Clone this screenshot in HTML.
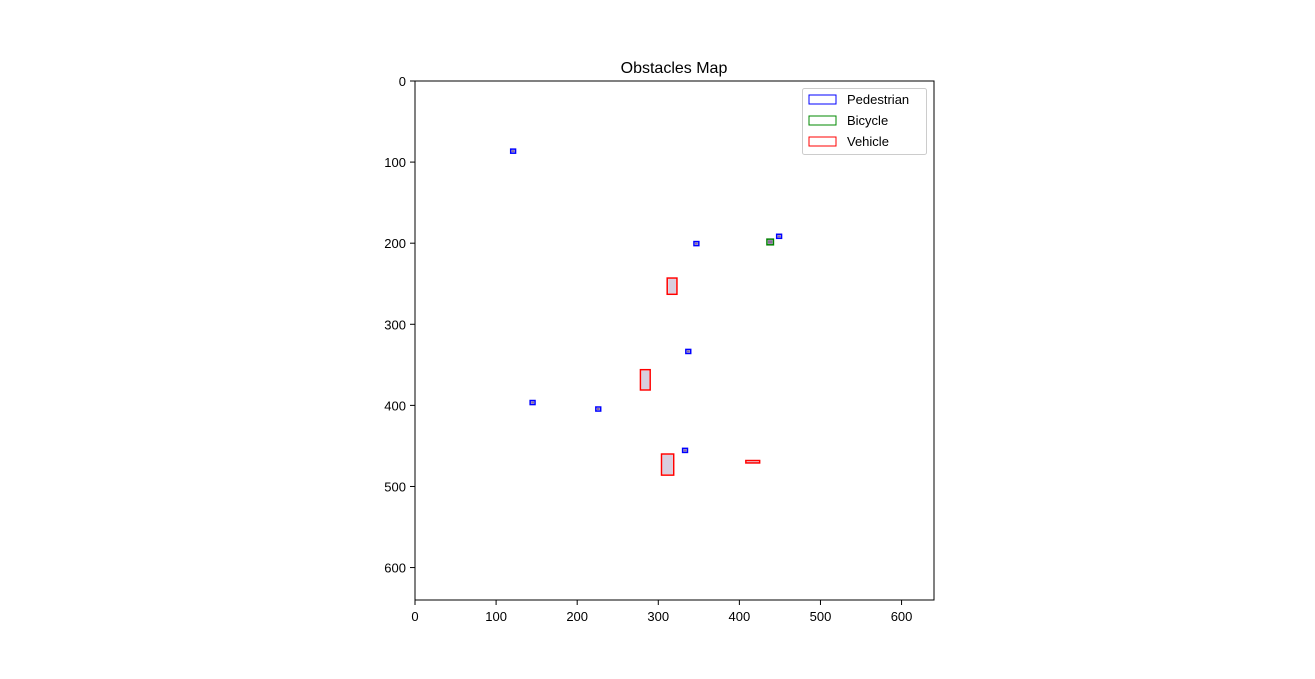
<!DOCTYPE html>
<html><head><meta charset="utf-8"><style>
body{margin:0;background:#fff;width:1315px;height:674px;overflow:hidden}
text{font-family:"Liberation Sans","DejaVu Sans",sans-serif}
</style></head><body>
<svg id="chart" width="1315" height="674">
<text x="674" y="73" text-anchor="middle" font-size="16">Obstacles Map</text>
<g id="marks"></g>
<rect x="415" y="81" width="519" height="519" fill="none" stroke="#000" stroke-width="1"/>
<g id="axes"></g>
<g>
<rect x="802.5" y="88.5" width="124" height="66" rx="2" fill="#fff" stroke="#ccc"/>
<rect x="809" y="95" width="27" height="9" fill="none" stroke="#00f"/>
<text x="847" y="104" font-size="13">Pedestrian</text>
<rect x="809" y="116" width="27" height="9" fill="none" stroke="#080"/>
<text x="847" y="125" font-size="13">Bicycle</text>
<rect x="809" y="137" width="27" height="9" fill="none" stroke="#f00"/>
<text x="847" y="146" font-size="13">Vehicle</text>
</g>
</svg>
<script>
const xTicks=[0,100,200,300,400,500,600];
const yTicks=[0,100,200,300,400,500,600];
const boxX=[118,344,446,334,142,223,330,434,311,278,304,408];
const boxY=[84,198,189,331,394,402,453,195,243,356,460,468];
const boxW=[6,6,6,6,6,6,6,8,12,12,15,17];
const boxH=[5,5,5,5,5,5,5,7,20,25,26,3];
const boxClass=["Pedestrian","Pedestrian","Pedestrian","Pedestrian","Pedestrian","Pedestrian","Pedestrian","Bicycle","Vehicle","Vehicle","Vehicle","Vehicle"];
const colors={Pedestrian:"#0000ff",Bicycle:"#008000",Vehicle:"#ff0000"};
const X0=415,Y0=81,S=519/640;
const sx=v=>X0+v*S, sy=v=>Y0+v*S;
const NS="http://www.w3.org/2000/svg";
const ax=document.getElementById('axes');
function mk(t,a,p){const e=document.createElementNS(NS,t);for(const k in a)e.setAttribute(k,a[k]);p.appendChild(e);return e;}
xTicks.forEach(t=>{
 const l=mk('line',{x1:sx(t),x2:sx(t),y1:600,y2:605,stroke:'#000'},ax);
 
 
 const tx=mk('text',{x:sx(t),y:621,'text-anchor':'middle','font-size':13},ax);tx.textContent=t;
 
 
});
yTicks.forEach(t=>{
 const l=mk('line',{x1:410,x2:415,y1:sy(t),y2:sy(t),stroke:'#000'},ax);
 
 
 const tx=mk('text',{x:406,y:sy(t)+5,'text-anchor':'end','font-size':13},ax);tx.textContent=t;
 
 
});
const mg=document.getElementById('marks');
boxX.forEach((bx,i)=>{
 const c=colors[boxClass[i]];
 const x=sx(bx),y=sy(boxY[i]),w=boxW[i]*S,h=boxH[i]*S;
 const inner=mk('rect',{x:x+1,y:y+1,width:Math.max(w-2,1),height:Math.max(h-2,1),fill:'#3a0a5a',opacity:boxClass[i]==='Vehicle'?0.2:0.6},mg);
 
 
 const r=mk('rect',{x:x,y:y,width:w,height:h,fill:'none',stroke:c,'stroke-width':1.5},mg);
 
 
});
</script>
</body></html>
